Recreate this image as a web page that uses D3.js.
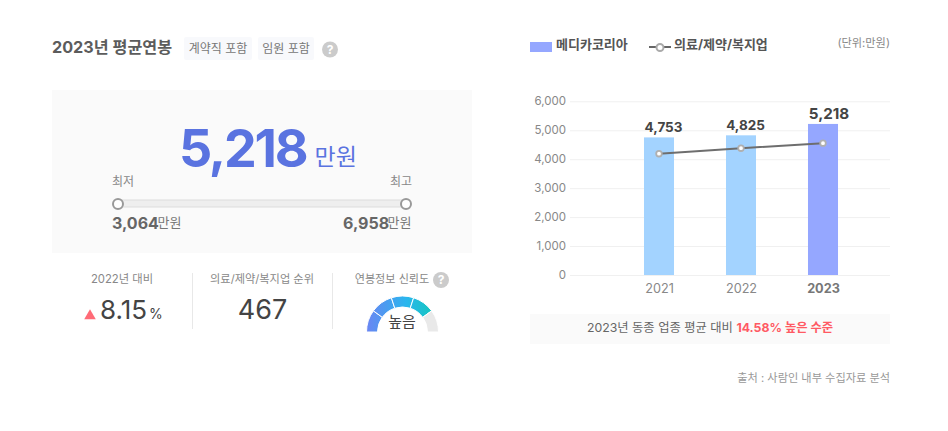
<!DOCTYPE html>
<html><head><meta charset="utf-8">
<script src="https://d3js.org/d3.v7.min.js"></script>
<style>html,body{margin:0;padding:0;background:#fff}svg{display:block}text{font-family:Inter,"Noto Sans CJK KR",sans-serif}</style>
</head><body><svg id="c" width="948" height="431"></svg>
<script>
const years=["2021","2022","2023"];
const companyValues=[4753,4825,5218];
const industryValues=[4190,4380,4554];
const yTicks=[0,1000,2000,3000,4000,5000,6000];
const gaugeLevels=[1,1,1,1,1];
const gaugeFilled=[true,true,true,true,false];
const salaryRange=[3064,6958];

const svg=d3.select("#c");
function t(x,y,s,size,fill,opt={}){return svg.append("text").attr("x",x).attr("y",y).text(s).attr("font-size",size).attr("fill",fill).attr("font-weight",opt.w||400).attr("text-anchor",opt.a||"start");}
function help(cx,cy,r){svg.append("circle").attr("cx",cx).attr("cy",cy).attr("r",r).attr("fill","#cbcbcb");
 t(cx,cy+r*0.55,"?",r*1.5,"#fff",{a:"middle",w:700});}
function rr(x,y,w,h,f,rx=0){return svg.append("rect").attr("x",x).attr("y",y).attr("width",w).attr("height",h).attr("fill",f).attr("rx",rx);}

// header
t(52,53,"2023년 평균연봉",16.2,"#5c5c5c",{w:700});
rr(184,37,68,23,"#f8f9fc",2);t(218,53,"계약직 포함",12,"#777",{a:"middle"});
rr(258,37,56,23,"#f8f9fc",2);t(286,53,"임원 포함",12,"#777",{a:"middle"});
help(330,49.5,8);

// main panel
rr(52,90,420,163,"#fafafa");
t(179,167,"5,218",52,"#5a73e0",{w:700}).attr("letter-spacing",-2.2);
t(314.5,165,"만원",23,"#5a73e0");
t(112,186,"최저",12,"#888");
t(412,186,"최고",12,"#888",{a:"end"});
const rangeX=d3.scaleLinear().domain(salaryRange).range([118,406]);
svg.append("rect").attr("x",rangeX(salaryRange[0])).attr("y",200).attr("width",rangeX(salaryRange[1])-rangeX(salaryRange[0])).attr("height",7).attr("fill","#eeeeee").attr("stroke","#dcdcdc");
svg.selectAll(".h").data(salaryRange).join("circle").attr("cx",d=>rangeX(d)).attr("cy",204).attr("r",5).attr("fill","#fff").attr("stroke","#999").attr("stroke-width",2);
const fmt=d3.format(",");
t(112,229,fmt(salaryRange[0]),16,"#666",{w:700});
t(157.5,227,"만원",13,"#777");
t(343,229,fmt(salaryRange[1]),16,"#666",{w:700});
t(387.5,227,"만원",13,"#777");

// stats row
t(122,283,"2022년 대비",11.3,"#888",{a:"middle"});
svg.append("path").attr("d",d3.symbol(d3.symbolTriangle,58)()).attr("transform","translate(90,316)").attr("fill","#ff6b77");
t(100,319,"8.15",26,"#444");
t(149,319,"%",14,"#444");
svg.selectAll(".dv").data([192.5,332.5]).join("line").attr("x1",d=>d).attr("x2",d=>d).attr("y1",273).attr("y2",329).attr("stroke","#e8e8e8");
t(262,283,"의료/제약/복지업 순위",11.2,"#888",{a:"middle"});
t(262.5,319,"467",27,"#444",{a:"middle"});
t(392,283,"연봉정보 신뢰도",11.1,"#888",{a:"middle"});
help(441,280,8);

// gauge
const defs=svg.append("defs");
const gl=defs.append("linearGradient").attr("id","gl").attr("gradientUnits","userSpaceOnUse").attr("x1",-36).attr("x2",30).attr("y1",0).attr("y2",0);
[[0,"#6b86f3"],[0.3,"#4a9cf0"],[0.6,"#2ab6ee"],[1,"#14c6bf"]].forEach(s=>gl.append("stop").attr("offset",s[0]).attr("stop-color",s[1]));
const pie=d3.pie().sort(null).startAngle(-Math.PI/2).endAngle(Math.PI/2);
const arc=d3.arc().innerRadius(25).outerRadius(36);
svg.append("g").attr("transform","translate(402.5,332)").selectAll("path").data(pie(gaugeLevels)).join("path").attr("d",arc).attr("fill",(d,i)=>gaugeFilled[i]?"url(#gl)":"#e9e9e9").attr("stroke","#fff").attr("stroke-width",1);
t(402,327,"높음",15,"#444",{a:"middle"});

// legend
rr(530,42,22,10,"#95a7ff");
t(556,49,"메디카코리아",13,"#555",{w:700});
svg.append("line").attr("x1",649).attr("x2",671).attr("y1",47).attr("y2",47).attr("stroke","#666").attr("stroke-width",2);
svg.append("circle").attr("cx",660).attr("cy",47.5).attr("r",3.5).attr("fill","#fff").attr("stroke","#aaa").attr("stroke-width",2);
t(674,49,"의료/제약/복지업",13,"#555",{w:700});
t(890,47,"(단위:만원)",11.2,"#888",{a:"end"});

// chart
const y=d3.scaleLinear().domain([0,6000]).range([275,101.3]);
const x=d3.scaleBand().domain(years).range([618,864]).paddingInner(0.634).paddingOuter(0.317);
const gy=svg.append("g").attr("transform","translate(570,0)").call(d3.axisLeft(y).tickValues(yTicks).tickSize(-320).tickPadding(4).tickFormat(fmt));
gy.select(".domain").remove();
gy.selectAll("line").attr("stroke","#f0f0f0");
gy.selectAll("text").attr("font-size",11.5).attr("fill","#888").attr("dy","0.28em").style("font-family",'Inter,"Noto Sans CJK KR"');
svg.selectAll(".bar").data(years).join("rect").attr("x",d=>x(d)).attr("width",x.bandwidth()).attr("y",(d,i)=>y(companyValues[i])).attr("height",(d,i)=>y(0)-y(companyValues[i])).attr("fill",(d,i)=>i==2?"#95a7ff":"#a3d3ff");
const cx=d=>x(d)+x.bandwidth()/2;
svg.append("path").datum(years).attr("fill","none").attr("stroke","#6e6e6e").attr("stroke-width",2).attr("d",d3.line().x(cx).y((d,i)=>y(industryValues[i])));
svg.selectAll(".pt").data(years).join("circle").attr("cx",cx).attr("cy",(d,i)=>y(industryValues[i])).attr("r",2.8).attr("fill","#fff").attr("stroke","#b0b0b0").attr("stroke-width",1.8);
years.forEach((d,i)=>{
 t(cx(d)+(i==2?6:4.5),y(companyValues[i])-(i==2?4.5:5),fmt(companyValues[i]),i==2?15.2:13.5,"#444",{a:"middle",w:700});
 t(cx(d)+0.5,293,d,12.7,i==2?"#777":"#888",{a:"middle",w:i==2?700:400});
});

// note
rr(530,314,360,30,"#fafafa");
const note=t(710,332,"2023년 동종 업종 평균 대비 ",12.3,"#666",{a:"middle"});
note.append("tspan").text("14.58% 높은 수준").attr("fill","#ff5a64").attr("font-weight",700);
t(890,382,"출처 : 사람인 내부 수집자료 분석",11.2,"#999",{a:"end"});
</script></body></html>
